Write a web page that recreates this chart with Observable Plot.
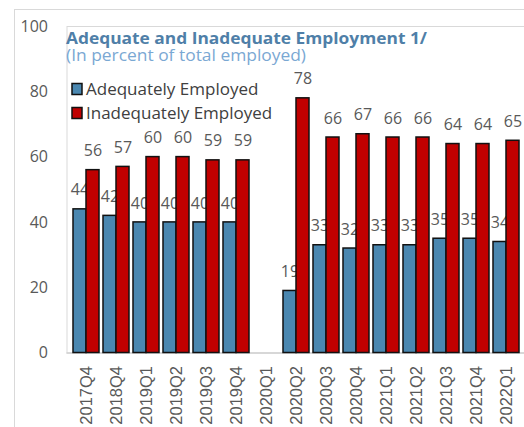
<!DOCTYPE html>
<html>
<head>
<meta charset="utf-8">
<script src="https://cdn.jsdelivr.net/npm/d3@7"></script>
<script src="https://cdn.jsdelivr.net/npm/@observablehq/plot@0.6"></script>
<style>
  html, body { margin: 0; padding: 0; background: #fff; }
  #wrap { position: relative; width: 524px; height: 427px; overflow: hidden; font-family: "Open Sans", sans-serif; }
  #outer { position: absolute; left: 14px; top: 9px; width: 700px; height: 700px; border: 1px solid #d9d9d9; box-sizing: border-box; }
  #chart { position: absolute; left: 0; top: 0; }
  #overlay { position: absolute; left: 0; top: 0; pointer-events: none; }
</style>
</head>
<body>
<div id="wrap">
  <div id="outer"></div>
  <div id="chart"></div>
  <svg id="overlay" width="524" height="427"></svg>
</div>
<script>
const quarters = ["2017Q4","2018Q4","2019Q1","2019Q2","2019Q3","2019Q4","2020Q1","2020Q2","2020Q3","2020Q4","2021Q1","2021Q2","2021Q3","2021Q4","2022Q1"];
const adequate = [44, 42, 40, 40, 40, 40, null, 19, 33, 32, 33, 33, 35, 35, 34];
const inadequate = [56, 57, 60, 60, 59, 59, null, 78, 66, 67, 66, 66, 64, 64, 65];
const seriesNames = ["Adequately Employed", "Inadequately Employed"];
const seriesColors = ["#4a87b0", "#c00000"];
const yTicks = [0, 20, 40, 60, 80, 100];
const titleText = "Adequate and Inadequate Employment 1/";
const subtitleText = "(In percent of total employed)";

const adeqRows = quarters.map((q, i) => ({q, v: adequate[i]})).filter(d => d.v != null);
const inadeqRows = quarters.map((q, i) => ({q, v: inadequate[i]})).filter(d => d.v != null);

const half = 13;
const labelColor = "#595959";

const chart = Plot.plot({
  width: 524,
  height: 427,
  marginLeft: 66.5,
  marginRight: 0,
  marginTop: 26,
  marginBottom: 74.5,
  style: {fontFamily: "Open Sans, sans-serif", background: "transparent"},
  x: {domain: quarters, paddingInner: 0.15, paddingOuter: 0.05, label: null},
  y: {domain: [0, 100], label: null},
  marks: [
    Plot.frame({stroke: "#d9d9d9", strokeWidth: 1}),
    Plot.ruleY([0], {stroke: "#d0d0d0", strokeWidth: 1.5}),
    Plot.axisY({ticks: yTicks, tickSize: 0, tickPadding: 19, fontSize: 16, color: labelColor, label: null}),
    Plot.axisX({tickRotate: -90, tickSize: 0, tickPadding: 13, fontSize: 16.5, fontFamily: "Liberation Sans, Arial, sans-serif", color: labelColor, label: null}),
    Plot.barY(adeqRows, {x: "q", y: "v", fill: seriesColors[0], stroke: "#111", strokeWidth: 1.5, insetRight: half}),
    Plot.text(adeqRows, {x: "q", y: "v", text: d => String(d.v), dx: -half / 2, dy: -19, fontSize: 16, fill: labelColor}),
    Plot.barY(inadeqRows, {x: "q", y: "v", fill: seriesColors[1], stroke: "#111", strokeWidth: 1.5, insetLeft: half}),
    Plot.text(inadeqRows, {x: "q", y: "v", text: d => String(d.v), dx: half / 2, dy: -19, fontSize: 16, fill: labelColor})
  ]
});
document.getElementById("chart").appendChild(chart);

// Title, subtitle, legend overlay
const ov = d3.select("#overlay");
ov.append("text").attr("x", 66).attr("y", 44)
  .attr("font-family", "Open Sans, sans-serif").attr("font-weight", 700).attr("font-size", 16)
  .attr("textLength", 361).attr("lengthAdjust", "spacingAndGlyphs")
  .attr("fill", "#4f7fa8").text(titleText);
ov.append("text").attr("x", 66).attr("y", 61)
  .attr("font-family", "Open Sans, sans-serif").attr("font-size", 16)
  .attr("textLength", 240).attr("lengthAdjust", "spacingAndGlyphs")
  .attr("fill", "#7aa8d3").text(subtitleText);
const legendY = [95, 119];
seriesNames.forEach((name, i) => {
  ov.append("rect").attr("x", 72).attr("y", legendY[i] - 11.5).attr("width", 10).attr("height", 11)
    .attr("fill", seriesColors[i]).attr("stroke", "#111").attr("stroke-width", 1.5);
  ov.append("text").attr("x", 86).attr("y", legendY[i])
    .attr("font-family", "Open Sans, sans-serif").attr("font-size", 17)
    .attr("fill", "#404040").text(name);
});
</script>
</body>
</html>
